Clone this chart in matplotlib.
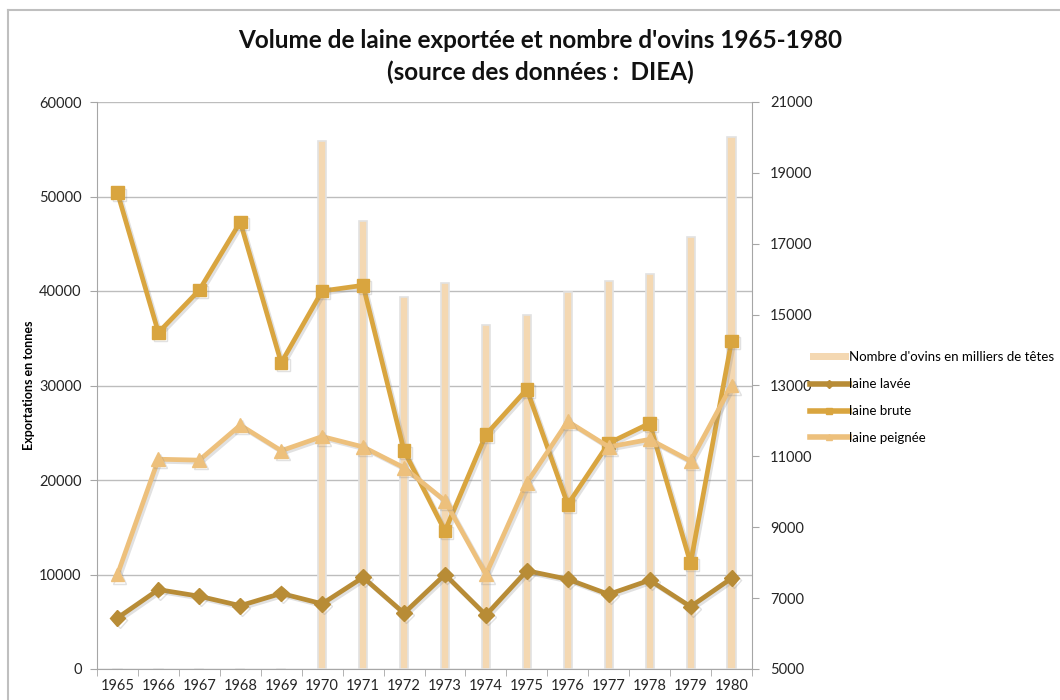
import matplotlib
matplotlib.use("Agg")
import matplotlib.pyplot as plt
from matplotlib.lines import Line2D
from matplotlib.patches import Patch
import matplotlib.patheffects as pe
import numpy as np

plt.rcParams['font.family'] = ['Lato', 'DejaVu Sans']

years = ["1965", "1966", "1967", "1968", "1969", "1970", "1971", "1972",
         "1973", "1974", "1975", "1976", "1977", "1978", "1979", "1980"]
ovins = [np.nan, np.nan, np.nan, np.nan, np.nan, 19900, 17650, 15500,
         15900, 14700, 15000, 15650, 15950, 16150, 17200, 20000]
laine_lavee = [5400, 8400, 7700, 6700, 8000, 6900, 9700, 5900,
               10000, 5700, 10400, 9500, 7900, 9400, 6600, 9600]
laine_brute = [50400, 35600, 40100, 47300, 32400, 40000, 40600, 23100,
               14600, 24800, 29600, 17400, 23900, 26000, 11200, 34700]
laine_peignee = [10000, 22200, 22100, 25800, 23100, 24600, 23500, 21300,
                 17800, 10000, 19700, 26200, 23500, 24300, 22000, 30000]

left_ticks = [0, 10000, 20000, 30000, 40000, 50000, 60000]
right_ticks = [5000, 7000, 9000, 11000, 13000, 15000, 17000, 19000, 21000]

c_lavee = "#B88C36"
c_brute = "#D9A53F"
c_peign = "#EDC07C"
c_bar = "#F4D8B2"
spine_c = "#A6A6A6"

fig = plt.figure(figsize=(10.6, 7.0), dpi=100)
ax = fig.add_axes([97/1060, 1-669/700, (752-97)/1060, (669-102)/700])
axb = ax.twinx()
axl = ax.twinx()

x = np.arange(len(years))

# primary axis: grid + ticks
ax.set_xlim(-0.5, len(years)-0.5)
ax.set_ylim(0, 60000)
ax.set_yticks(left_ticks)
ax.set_yticklabels([str(v) for v in left_ticks], fontsize=10.5, color="#262626")
ax.grid(axis='y', color="#BDBDBD", linewidth=1.0)
ax.set_axisbelow(True)
ax.set_xticks(x)
ax.set_xticklabels(years, fontsize=10.5, color="#262626")
ax.set_xticks(np.arange(-0.5, len(years)), minor=True)
ax.tick_params(axis='x', which='major', length=0, pad=7)
ax.tick_params(axis='x', which='minor', length=5, color=spine_c, direction='out')
ax.tick_params(axis='y', length=5, color=spine_c, direction='out', pad=6)
for s in ['top', 'right']:
    ax.spines[s].set_visible(False)
for s in ['left', 'bottom']:
    ax.spines[s].set_color(spine_c)
ax.set_ylabel("Exportations en tonnes", fontsize=9, fontweight='bold')
ax.yaxis.set_label_coords((35-97)/655, 0.5)

# bars on the right axis
axb.set_ylim(5000, 21000)
bars = axb.bar(x, np.nan_to_num(ovins, nan=0) - 5000, bottom=5000, width=0.2,
               color=c_bar, edgecolor="#E2E2E2", linewidth=1.2, zorder=2)
axb.set_yticks(right_ticks)
axb.set_yticklabels([str(v) for v in right_ticks], fontsize=10.5, color="#262626")
axb.tick_params(axis='y', length=5, color=spine_c, direction='out', pad=8)
for s in ['top', 'left', 'bottom']:
    axb.spines[s].set_visible(False)
axb.spines['right'].set_color(spine_c)

# lines on overlay axis with left scale
axl.set_ylim(0, 60000)
axl.set_yticks([])
for s in axl.spines.values():
    s.set_visible(False)
shadow = [pe.SimpleLineShadow(offset=(1.5, -1.5), alpha=0.25, shadow_color="#888888"), pe.Normal()]
axl.plot(x, laine_lavee, color=c_lavee, lw=3.4, marker='D', ms=8, path_effects=shadow)
axl.plot(x, laine_brute, color=c_brute, lw=3.4, marker='s', ms=9, path_effects=shadow)
axl.plot(x, laine_peignee, color=c_peign, lw=3.4, marker='^', ms=10, path_effects=shadow)

# legend
handles = [Patch(facecolor=c_bar, edgecolor='none'),
           Line2D([], [], color=c_lavee, lw=4, marker='D', ms=4),
           Line2D([], [], color=c_brute, lw=4, marker='s', ms=5),
           Line2D([], [], color=c_peign, lw=4, marker='^', ms=5)]
labels = ["Nombre d'ovins en milliers de têtes", "laine lavée", "laine brute", "laine peignée"]
fig.legend(handles, labels, loc='upper left', bbox_to_anchor=(805/1060, 1-346/700),
           frameon=False, fontsize=9.5, handlelength=2.9, handleheight=0.5,
           handletextpad=0.0, labelspacing=1.12, borderaxespad=0)

fig.text(540/1060, 1-40/700, "Volume de laine exportée et nombre d'ovins 1965-1980",
         ha='center', va='center', fontsize=17.5, fontweight='bold', color="#111111")
fig.text(540/1060, 1-72/700, "(source des données :  DIEA)",
         ha='center', va='center', fontsize=17.5, fontweight='bold', color="#111111")

# chart frame (partially visible)
fig.add_artist(Line2D([8/1060, 8/1060], [0, 1-10/700], color="#BFBFBF", lw=1.5))
fig.add_artist(Line2D([8/1060, 1], [1-10/700, 1-10/700], color="#BFBFBF", lw=1.5))

fig.savefig("out.png", dpi=100)
